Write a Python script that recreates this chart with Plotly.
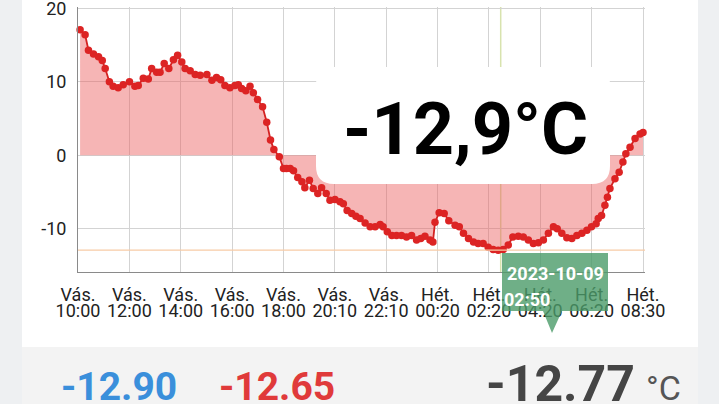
import plotly.graph_objects as go

# ---------------- data ----------------
minutes_from_10h = [5, 17, 25, 37, 49, 58, 65, 75, 84, 96, 108, 123, 136, 144, 156, 168, 176, 188, 196,
                    206, 217, 228, 238, 248, 256, 268, 280, 292, 308, 320, 331, 341, 351, 363, 375, 383,
                    391, 401, 411, 419, 429, 441, 451, 460, 468, 481, 491, 498, 507, 515, 525, 535, 542,
                    553, 562, 573, 582, 593, 602, 614, 626, 634, 643, 654, 664, 674, 686, 698, 710, 722,
                    729, 739, 750, 761, 773, 785, 797, 809, 819, 829, 841, 848, 853, 863, 875, 886, 901,
                    911, 921, 933, 945, 956, 968, 980, 992, 1004, 1016, 1028, 1039, 1052, 1064, 1076,
                    1088, 1100, 1112, 1124, 1136, 1145, 1156, 1168, 1180, 1192, 1204, 1216, 1227, 1238,
                    1243, 1251, 1259, 1265, 1271, 1283, 1293, 1302, 1309, 1319, 1331, 1343, 1350]
temperature = [17.1, 16.4, 14.3, 13.8, 13.4, 12.9, 11.8, 10.0, 9.4, 9.2, 9.6, 10.0, 9.4, 9.5, 10.5, 10.4,
               11.8, 11.3, 11.3, 12.5, 11.8, 13.0, 13.6, 12.7, 11.8, 11.5, 11.0, 10.9, 11.0, 10.2, 10.6,
               10.3, 9.5, 9.2, 9.5, 9.6, 9.1, 8.8, 9.4, 8.5, 7.6, 6.6, 4.5, 2.1, 0.8, -0.2, -1.8, -1.8,
               -1.8, -2.1, -3.0, -3.6, -4.4, -3.4, -4.5, -5.2, -4.4, -5.2, -6.1, -6.0, -6.3, -6.6, -7.5,
               -7.9, -8.3, -8.6, -9.2, -9.7, -9.7, -9.4, -9.7, -10.4, -10.9, -10.9, -10.9, -11.1, -10.9,
               -11.5, -11.3, -11.0, -11.5, -11.8, -9.1, -7.8, -7.9, -8.9, -9.5, -9.7, -10.6, -11.3, -11.8,
               -12.0, -12.0, -12.5, -12.8, -12.9, -12.8, -12.2, -11.1, -11.0, -11.1, -11.5, -12.0, -11.9,
               -11.5, -10.6, -9.7, -10.0, -10.6, -11.2, -11.3, -10.9, -10.6, -10.2, -9.7, -9.3, -8.6,
               -8.2, -6.8, -5.7, -4.5, -3.2, -2.3, -0.9, 0.2, 1.1, 2.3, 2.9, 3.1]

tick_days = ["Vás.", "Vás.", "Vás.", "Vás.", "Vás.", "Vás.", "Vás.", "Hét.", "Hét.", "Hét.", "Hét.", "Hét."]
tick_times = ["10:00", "12:00", "14:00", "16:00", "18:00", "20:10", "22:10", "00:20", "02:20", "04:20",
              "06:20", "08:30"]
y_ticks = [-10, 0, 10, 20]
span_minutes = 1350

min_value = -12.9
selected_minute = 1010
selected_date = "2023-10-09"
selected_time = "02:50"
current_label = "-12,9°C"
stat_min = "-12.90"
stat_max = "-12.65"
stat_avg = "-12.77"
unit = "°C"

# ---------------- layout helpers (pixels -> paper) ----------------
W, H = 719, 404
ML, MR, MT, MB = 78, 74, 7, 132
PW, PH = W - ML - MR, H - MT - MB
X_MAX = span_minutes * PW / 565.0      # so that the last tick sits 2px inside the right edge


def px(x):
    return (x - ML) / PW


def py(y):
    return (H - MB - y) / PH


def path_px(cmds):
    s = ""
    for cmd, pts in cmds:
        s += cmd + " " + " ".join(f"{px(a):.5f},{py(b):.5f}" for a, b in pts) + " "
    return s + "Z"


def rrect(x0, y0, x1, y1, r):
    return path_px([
        ("M", [(x0 + r, y0)]), ("L", [(x1 - r, y0)]), ("Q", [(x1, y0), (x1, y0 + r)]),
        ("L", [(x1, y1 - r)]), ("Q", [(x1, y1), (x1 - r, y1)]), ("L", [(x0 + r, y1)]),
        ("Q", [(x0, y1), (x0, y1 - r)]), ("L", [(x0, y0 + r)]), ("Q", [(x0, y0), (x0 + r, y0)]),
    ])


tickvals = [i * span_minutes / (len(tick_times) - 1) for i in range(len(tick_times))]

fig = go.Figure()
fig.add_trace(go.Scatter(
    x=minutes_from_10h, y=temperature, mode="lines+markers", fill="tozeroy",
    fillcolor="rgba(236,90,90,0.45)",
    line=dict(color="#d42222", width=1.8),
    marker=dict(color="#dc2424", size=7.5),
    cliponaxis=False, showlegend=False, hoverinfo="skip",
))
# dummy trace for the second x axis (time labels)
fig.add_trace(go.Scatter(x=[tickvals[0]], y=[None], xaxis="x2", yaxis="y", showlegend=False,
                         hoverinfo="skip"))

font_fam = "Roboto"
fig.update_layout(
    width=W, height=H,
    margin=dict(l=ML, r=MR, t=MT, b=MB, pad=0, autoexpand=False),
    paper_bgcolor="#eef0f2", plot_bgcolor="#ffffff",
    font=dict(family=font_fam, color="#222222", size=18),
    xaxis=dict(range=[0, X_MAX], tickvals=tickvals, ticktext=tick_days, automargin=False,
               showgrid=True, gridcolor="#d3d3d3", gridwidth=1, zeroline=False,
               showline=True, linecolor="#8a8a8a", linewidth=1, ticks="",
               ticklabeloverflow="allow",
               ticklabelstandoff=6, tickfont=dict(size=18, color="#222222", family=font_fam)),
    xaxis2=dict(range=[0, X_MAX], overlaying="x", anchor="y", side="bottom", matches="x",
                automargin=False, ticklabeloverflow="allow",
                tickvals=tickvals, ticktext=tick_times, showgrid=False, zeroline=False,
                showline=False, ticks="", ticklabelstandoff=26,
                tickfont=dict(size=18, color="#222222", family=font_fam)),
    yaxis=dict(range=[-15.87, 20.18], tickvals=y_ticks, ticktext=[str(v) for v in y_ticks],
               automargin=False, ticklabeloverflow="allow",
               showgrid=True, gridcolor="#d3d3d3", gridwidth=1, zeroline=False,
               showline=True, linecolor="#8a8a8a", linewidth=1, ticks="",
               ticklabelstandoff=7, tickfont=dict(size=18, color="#222222", family=font_fam)),
)

shapes = [
    # white card
    dict(type="rect", xref="paper", yref="paper", x0=px(22), x1=px(698), y0=py(0), y1=py(347),
         fillcolor="#ffffff", line=dict(width=0), layer="below"),
    # bottom stats band
    dict(type="rect", xref="paper", yref="paper", x0=px(22), x1=px(698), y0=py(347), y1=py(404),
         fillcolor="#f3f3f3", line=dict(width=0), layer="below"),
    # crosshair
    dict(type="line", xref="x", yref="paper", x0=selected_minute, x1=selected_minute, y0=0, y1=1,
         line=dict(color="rgba(200,215,140,0.7)", width=1.5), layer="below"),
    # min line
    dict(type="line", xref="paper", yref="y", x0=0, x1=1, y0=min_value, y1=min_value,
         line=dict(color="#f7cba6", width=1.2), layer="above"),
    # big value box
    dict(type="path", xref="paper", yref="paper", path=rrect(316, 67, 610, 184, 18),
         fillcolor="#ffffff", line=dict(width=0), layer="above"),
    # tooltip
    dict(type="path", xref="paper", yref="paper",
         path=path_px([("M", [(502, 253)]), ("L", [(608, 253)]), ("L", [(608, 311)]),
                       ("L", [(562, 311)]), ("L", [(552, 333)]), ("L", [(543, 311)]),
                       ("L", [(502, 311)])]),
         fillcolor="rgba(75,155,105,0.80)", line=dict(width=0), layer="above"),
]
fig.update_layout(shapes=shapes)

ann = [
    dict(text=current_label, x=px(465), y=py(129), xanchor="center", yanchor="middle",
         font=dict(size=72, color="#000000", family=font_fam, weight=700)),
    dict(text=selected_date, x=px(555), y=py(273), xanchor="center", yanchor="middle",
         font=dict(size=18, color="#ffffff", family=font_fam, weight=700)),
    dict(text=selected_time, x=px(502), y=py(299), xanchor="left", yanchor="middle",
         font=dict(size=18, color="#ffffff", family=font_fam, weight=700)),
    dict(text=stat_min, x=px(59), y=py(387), xanchor="left", yanchor="middle",
         font=dict(size=39, color="#3a8fdb", family=font_fam, weight=700)),
    dict(text=stat_max, x=px(217), y=py(387), xanchor="left", yanchor="middle",
         font=dict(size=39, color="#e03a3a", family=font_fam, weight=700)),
    dict(text=stat_avg, x=px(484), y=py(384), xanchor="left", yanchor="middle",
         font=dict(size=50, color="#454545", family=font_fam, weight=700)),
    dict(text=unit, x=px(644), y=py(388), xanchor="left", yanchor="middle",
         font=dict(size=34, color="#555555", family=font_fam)),
]
for a in ann:
    a.update(xref="paper", yref="paper", showarrow=False)
fig.update_layout(annotations=ann)

fig.write_html("out.html", config={"displayModeBar": False},
               post_script="document.body.style.margin='0';document.body.style.padding='0';"
                           "document.documentElement.style.overflow='hidden';")
